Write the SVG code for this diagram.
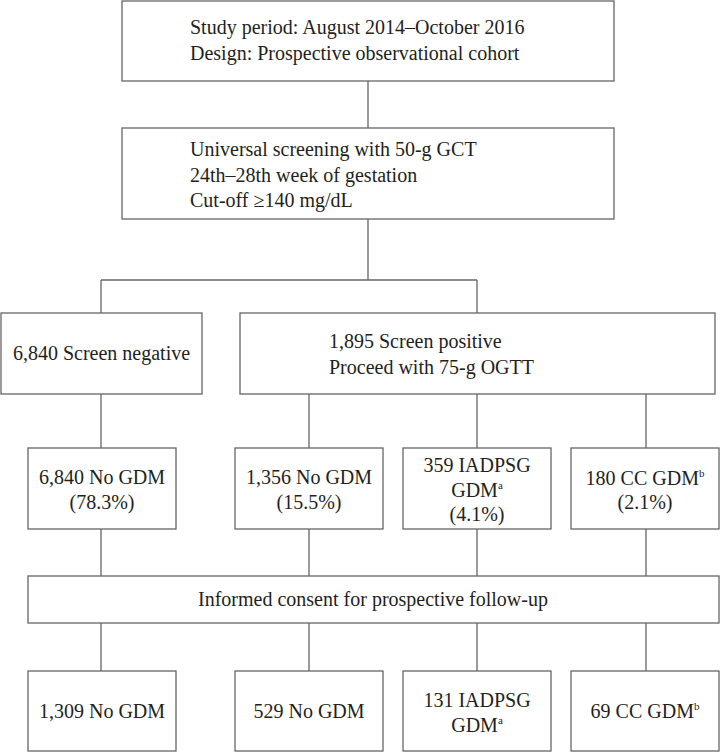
<svg xmlns="http://www.w3.org/2000/svg" width="721" height="752" viewBox="0 0 721 752">
<style>
.box{fill:#fff;stroke:#666;stroke-width:1.3}
.ln{fill:none;stroke:#666;stroke-width:1.3}
text{font-family:"Liberation Serif","Times New Roman",serif;font-size:20px;fill:#231f20}
.c{text-anchor:middle}
.sup{font-size:11px}
</style>
<rect width="721" height="752" fill="#fff"/>
<g id="connectors">
<path class="ln" d="M368 81V128M368 219V280M101 280H477M101 280V313M477 280V313"/>
<path class="ln" d="M101 394V448M309 394V448M477 394V448M646 394V448"/>
<path class="ln" d="M101 529V576M309 529V576M477 529V576M646 529V576"/>
<path class="ln" d="M101 623V671M309 623V671M477 623V671M646 623V671"/>
</g>
<g id="study">
<rect class="box" x="122" y="1" width="492" height="80"/>
<text x="190" y="34">Study period: August 2014–October 2016</text>
<text x="190" y="60">Design: Prospective observational cohort</text>
</g>
<g id="screening">
<rect class="box" x="122" y="128" width="492" height="91"/>
<text x="190" y="156">Universal screening with 50-g GCT</text>
<text x="190" y="182">24th–28th week of gestation</text>
<text x="190" y="207">Cut-off ≥140 mg/dL</text>
</g>
<g id="neg">
<rect class="box" x="1" y="313" width="201" height="81"/>
<text class="c" x="101.5" y="360">6,840 Screen negative</text>
</g>
<g id="pos">
<rect class="box" x="240" y="313" width="475" height="81"/>
<text x="329" y="348">1,895 Screen positive</text>
<text x="329" y="374">Proceed with 75-g OGTT</text>
</g>
<g id="nogdm1">
<rect class="box" x="28" y="448" width="148" height="81"/>
<text class="c" x="102" y="484">6,840 No GDM</text>
<text class="c" x="102" y="509">(78.3%)</text>
</g>
<g id="nogdm2">
<rect class="box" x="235" y="448" width="148" height="81"/>
<text class="c" x="309" y="484">1,356 No GDM</text>
<text class="c" x="309" y="509">(15.5%)</text>
</g>
<g id="iadpsg1">
<rect class="box" x="403" y="448" width="148" height="81"/>
<text class="c" x="477" y="472">359 IADPSG</text>
<text class="c" x="477" y="497">GDM<tspan class="sup" dy="-8">a</tspan></text>
<text class="c" x="477" y="521">(4.1%)</text>
</g>
<g id="cc1">
<rect class="box" x="571" y="448" width="148" height="81"/>
<text class="c" x="645" y="485">180 CC GDM<tspan class="sup" dy="-8">b</tspan></text>
<text class="c" x="645" y="509">(2.1%)</text>
</g>
<g id="consent">
<rect class="box" x="28" y="576" width="691" height="47"/>
<text class="c" x="373" y="606">Informed consent for prospective follow-up</text>
</g>
<g id="f1">
<rect class="box" x="28" y="671" width="148" height="80"/>
<text class="c" x="102" y="718">1,309 No GDM</text>
</g>
<g id="f2">
<rect class="box" x="235" y="671" width="148" height="80"/>
<text class="c" x="309" y="718">529 No GDM</text>
</g>
<g id="f3">
<rect class="box" x="403" y="671" width="148" height="80"/>
<text class="c" x="477" y="707">131 IADPSG</text>
<text class="c" x="477" y="732">GDM<tspan class="sup" dy="-8">a</tspan></text>
</g>
<g id="f4">
<rect class="box" x="571" y="671" width="148" height="80"/>
<text class="c" x="645" y="718">69 CC GDM<tspan class="sup" dy="-8">b</tspan></text>
</g>
</svg>
